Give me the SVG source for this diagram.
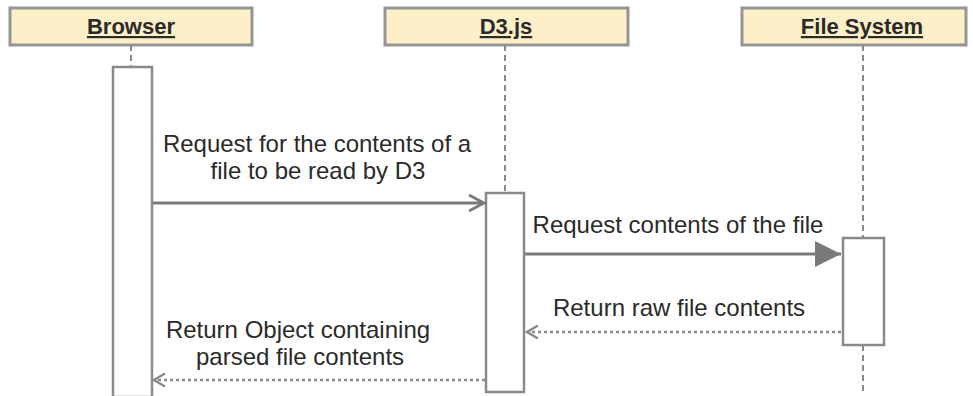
<svg xmlns="http://www.w3.org/2000/svg" width="973" height="396" viewBox="0 0 973 396">
  <style>
    .head { fill: #fdf0c8; stroke: #959595; stroke-width: 3; }
    .head-label { font-family: "Liberation Sans", Arial, sans-serif; font-size: 22px; font-weight: bold; fill: #2a2a2a; text-anchor: middle; text-decoration: underline; }
    .life { stroke: #8a8a8a; stroke-width: 2; stroke-dasharray: 6 4; fill: none; }
    .act { fill: #ffffff; stroke: #8a8a8a; stroke-width: 2.5; }
    .msg { stroke: #7a7a7a; stroke-width: 3; fill: none; }
    .ret { stroke: #8a8a8a; stroke-width: 2.5; stroke-dasharray: 3 3; fill: none; }
    .label { font-family: "Liberation Sans", Arial, sans-serif; font-size: 24px; fill: #2a2a2a; text-anchor: middle; }
  </style>
  <defs>
    <marker id="open" markerWidth="20" markerHeight="20" refX="17" refY="10" orient="auto" markerUnits="userSpaceOnUse">
      <path d="M2,2 L17,10 L2,18" fill="none" stroke="#7a7a7a" stroke-width="2.8"/>
    </marker>
    <marker id="open-small" markerWidth="16" markerHeight="16" refX="13" refY="8" orient="auto" markerUnits="userSpaceOnUse">
      <path d="M2,1.5 L13,8 L2,14.5" fill="none" stroke="#8a8a8a" stroke-width="2.5"/>
    </marker>
    <marker id="filled" markerWidth="28" markerHeight="28" refX="26" refY="14" orient="auto" markerUnits="userSpaceOnUse">
      <path d="M0,1 L26,14 L0,27 Z" fill="#7a7a7a"/>
    </marker>
  </defs>

  <rect width="973" height="396" fill="#ffffff"/>

  <g id="browser">
    <rect class="head" x="10" y="8" width="242" height="37"/>
    <text class="head-label" x="131" y="34">Browser</text>
    <line class="life" x1="131" y1="45" x2="131" y2="67"/>
    <rect class="act" x="113" y="67" width="39" height="330"/>
  </g>

  <g id="d3js">
    <rect class="head" x="385" y="8" width="243" height="37"/>
    <text class="head-label" x="506" y="34">D3.js</text>
    <line class="life" x1="505" y1="45" x2="505" y2="193"/>
    <rect class="act" x="486" y="193" width="38" height="199"/>
  </g>

  <g id="filesystem">
    <rect class="head" x="742" y="8" width="224" height="37"/>
    <text class="head-label" x="862" y="34">File System</text>
    <line class="life" x1="863" y1="45" x2="863" y2="238"/>
    <rect class="act" x="843" y="238" width="41" height="107"/>
    <line class="life" x1="863" y1="345" x2="863" y2="392"/>
  </g>

  <g id="connectors">
    <line class="msg" x1="153" y1="203" x2="484" y2="203" marker-end="url(#open)"/>
    <text class="label" x="317" y="152">Request for the contents of a</text>
    <text class="label" x="318" y="179">file to be read by D3</text>

    <line class="msg" x1="525" y1="254" x2="841" y2="254" marker-end="url(#filled)"/>
    <text class="label" x="678" y="233">Request contents of the file</text>

    <line class="ret" x1="841" y1="332" x2="527" y2="332" marker-end="url(#open-small)"/>
    <text class="label" x="679" y="316">Return raw file contents</text>

    <line class="ret" x1="485" y1="380" x2="154" y2="380" marker-end="url(#open-small)"/>
    <text class="label" x="298" y="338">Return Object containing</text>
    <text class="label" x="300" y="365">parsed file contents</text>
  </g>
</svg>
